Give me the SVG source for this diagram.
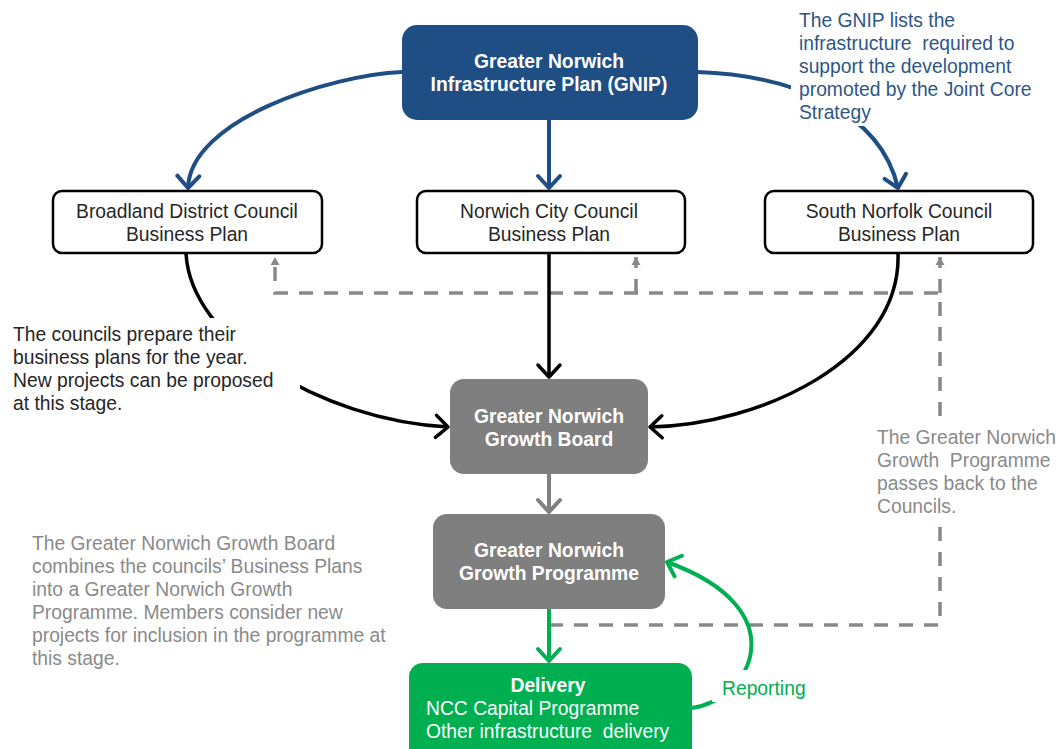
<svg xmlns="http://www.w3.org/2000/svg" width="1064" height="749" viewBox="0 0 1064 749">
<style>
text{font-family:"Liberation Sans",Arial,sans-serif;font-size:19.3px}
.b{font-weight:bold;fill:#fff}
.dk{fill:#262626}
.w{fill:#fff}
.gr{fill:#8a8a8a}
.bl{fill:#2d5687}
.grn{fill:#00b050}
.box{fill:#fff;stroke:#000;stroke-width:2.5}
.conn{fill:none;stroke-width:4}
.blue{stroke:#1f4e85}
.black{stroke:#000;stroke-width:3.5}
.gray{stroke:#808080}
.green{stroke:#00b050}
.dash{fill:none;stroke:#888;stroke-width:3.5;stroke-dasharray:14 11}
.mask{fill:#fff}
</style>
<defs>
<marker id="aBlue" markerUnits="userSpaceOnUse" markerWidth="30" markerHeight="30" viewBox="-15 -15 30 30" refX="0" refY="0" orient="auto"><path d="M-12,-11 L0,0 L-12,11" fill="none" stroke="#1f4e85" stroke-width="4" stroke-linejoin="round" stroke-linecap="round"/></marker>
<marker id="aBlack" markerUnits="userSpaceOnUse" markerWidth="30" markerHeight="30" viewBox="-15 -15 30 30" refX="0" refY="0" orient="auto"><path d="M-12,-11 L0,0 L-12,11" fill="none" stroke="#000" stroke-width="3.5" stroke-linejoin="round" stroke-linecap="round"/></marker>
<marker id="aGray" markerUnits="userSpaceOnUse" markerWidth="30" markerHeight="30" viewBox="-15 -15 30 30" refX="0" refY="0" orient="auto"><path d="M-12,-11 L0,0 L-12,11" fill="none" stroke="#808080" stroke-width="4" stroke-linejoin="round" stroke-linecap="round"/></marker>
<marker id="aGreen" markerUnits="userSpaceOnUse" markerWidth="30" markerHeight="30" viewBox="-15 -15 30 30" refX="0" refY="0" orient="auto"><path d="M-12,-11 L0,0 L-12,11" fill="none" stroke="#00b050" stroke-width="4" stroke-linejoin="round" stroke-linecap="round"/></marker>
<marker id="aDash" markerUnits="userSpaceOnUse" markerWidth="12" markerHeight="12" viewBox="-8 -6 12 12" refX="0" refY="0" orient="auto"><path d="M-8,-4.5 L0,0 L-8,4.5 Z" fill="#888"/></marker>
</defs>
<rect width="1064" height="749" fill="#fff"/>

<g id="connectors">
<path class="dash" d="M549,625 H940 V293 H275 V257" marker-end="url(#aDash)"/>
<path class="dash" d="M636,293 V257" marker-end="url(#aDash)"/>
<path class="dash" d="M940,293 V257" marker-end="url(#aDash)"/>
<path class="conn blue" d="M402,72 C330,75 190,120 188,188" marker-end="url(#aBlue)"/>
<path class="conn blue" d="M549,120 V188" marker-end="url(#aBlue)"/>
<path class="conn blue" d="M697,72 C790,75 880,110 898,188" marker-end="url(#aBlue)"/>
<path class="conn black" d="M186,253 C190,340 320,420 448,427" marker-end="url(#aBlack)"/>
<path class="conn black" d="M549,253 V377" marker-end="url(#aBlack)"/>
<path class="conn black" d="M898,253 C902,360 760,425 650,427" marker-end="url(#aBlack)"/>
<path class="conn gray" d="M549,474 V512" marker-end="url(#aGray)"/>
<path class="conn green" d="M549,609 V661" marker-end="url(#aGreen)"/>
<path class="conn green" d="M692,708 C750,700 800,610 667,562" marker-end="url(#aGreen)"/>
</g>

<g id="note-gnip">
<rect class="mask" x="791" y="4" width="250" height="122"/>
<text class="bl" x="799" y="27" xml:space="preserve"><tspan x="799" y="27">The GNIP lists the</tspan><tspan x="799" y="50">infrastructure  required to</tspan><tspan x="799" y="73">support the development</tspan><tspan x="799" y="96">promoted by the Joint Core</tspan><tspan x="799" y="119">Strategy</tspan></text>
</g>

<g id="note-councils">
<rect class="mask" x="5" y="318" width="295" height="96"/>
<text class="dk"><tspan x="13" y="341">The councils prepare their</tspan><tspan x="13" y="364">business plans for the year.</tspan><tspan x="13" y="387">New projects can be proposed</tspan><tspan x="13" y="410">at this stage.</tspan></text>
</g>

<g id="note-board">
<text class="gr"><tspan x="32" y="550">The Greater Norwich Growth Board</tspan><tspan x="32" y="573">combines the councils’ Business Plans</tspan><tspan x="32" y="596">into a Greater Norwich Growth</tspan><tspan x="32" y="619">Programme. Members consider new</tspan><tspan x="32" y="642">projects for inclusion in the programme at</tspan><tspan x="32" y="665">this stage.</tspan></text>
</g>

<g id="note-passback">
<rect class="mask" x="870" y="418" width="194" height="107"/>
<text class="gr" xml:space="preserve"><tspan x="877" y="444">The Greater Norwich</tspan><tspan x="877" y="467">Growth  Programme</tspan><tspan x="877" y="490">passes back to the</tspan><tspan x="877" y="513">Councils.</tspan></text>
</g>

<g id="note-reporting">
<rect class="mask" x="712" y="670" width="98" height="32"/>
<text class="grn" x="722" y="695">Reporting</text>
</g>

<g id="gnip">
<rect x="402" y="25" width="296" height="95" rx="15" fill="#1f4e85"/>
<text class="b" text-anchor="middle"><tspan x="549" y="68">Greater Norwich</tspan><tspan x="549" y="91">Infrastructure Plan (GNIP)</tspan></text>
</g>

<g id="broadland">
<rect class="box" x="53" y="191" width="269" height="62" rx="9"/>
<text class="dk" text-anchor="middle"><tspan x="187" y="218">Broadland District Council</tspan><tspan x="187" y="241">Business Plan</tspan></text>
</g>

<g id="norwich">
<rect class="box" x="417" y="191" width="268" height="62" rx="9"/>
<text class="dk" text-anchor="middle"><tspan x="549" y="218">Norwich City Council</tspan><tspan x="549" y="241">Business Plan</tspan></text>
</g>

<g id="southnorfolk">
<rect class="box" x="765" y="191" width="268" height="62" rx="9"/>
<text class="dk" text-anchor="middle"><tspan x="899" y="218">South Norfolk Council</tspan><tspan x="899" y="241">Business Plan</tspan></text>
</g>

<g id="board">
<rect x="450" y="379" width="198" height="95" rx="14" fill="#7f7f7f"/>
<text class="b" text-anchor="middle"><tspan x="549" y="423">Greater Norwich</tspan><tspan x="549" y="446">Growth Board</tspan></text>
</g>

<g id="programme">
<rect x="433" y="514" width="232" height="95" rx="14" fill="#7f7f7f"/>
<text class="b" text-anchor="middle"><tspan x="549" y="557">Greater Norwich</tspan><tspan x="549" y="580">Growth Programme</tspan></text>
</g>

<g id="delivery">
<rect x="409" y="663" width="283" height="100" rx="14" fill="#00b050"/>
<text class="b" text-anchor="middle" x="548" y="692">Delivery</text>
<text class="w" xml:space="preserve"><tspan x="426" y="715">NCC Capital Programme</tspan><tspan x="426" y="738">Other infrastructure  delivery</tspan></text>
</g>
</svg>
